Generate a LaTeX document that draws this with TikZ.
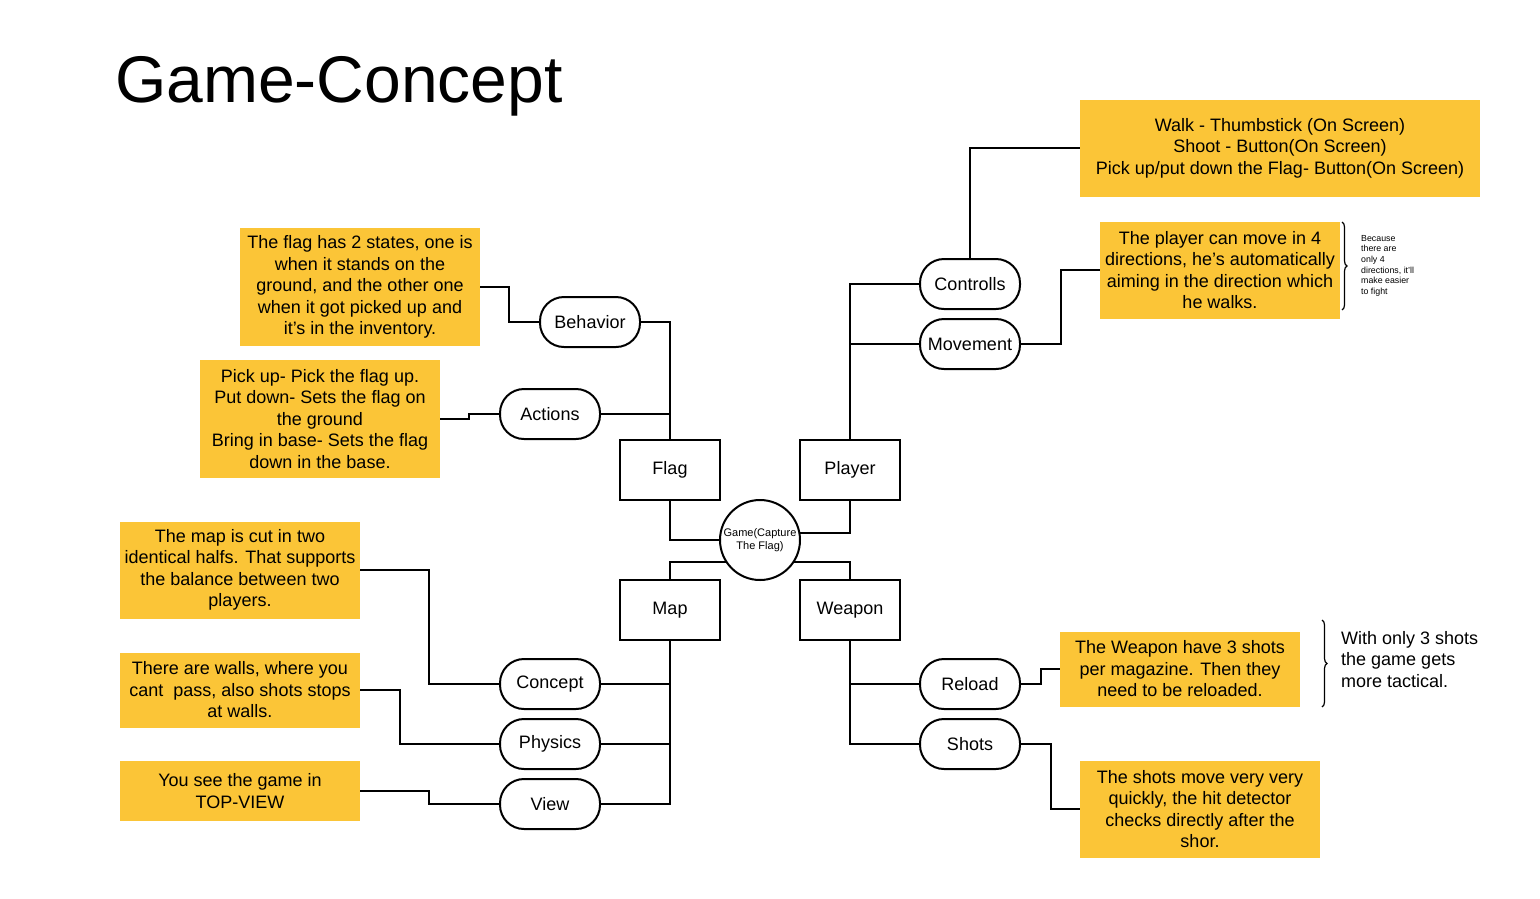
\documentclass[tikz,border=0pt]{standalone}
\usepackage{fontspec}
\setmainfont{Liberation Sans}
\usetikzlibrary{decorations.pathreplacing}
\definecolor{yel}{HTML}{FBC537}
\begin{document}
\begin{tikzpicture}[x=1pt,y=-1pt,
  every node/.style={font=\fontsize{18}{21.5}\selectfont},
  tbox/.style={fill=yel,align=center,inner sep=0pt},
  rbox/.style={draw,line width=1.5pt,minimum width=100pt,minimum height=60pt,inner sep=0pt},
  pill/.style={draw,line width=2pt,rounded corners=24pt,minimum width=100pt,minimum height=50pt,inner sep=0pt},
  conn/.style={line width=2pt},
  brc/.style={decorate,decoration={brace,amplitude=5pt},line width=1.2pt}]
\useasboundingbox (0,0) rectangle (1540,898);

\node[anchor=base west,inner sep=0pt,font=\fontsize{66}{66}\selectfont] (title) at (115,102) {Game-Concept};

% center
\node[draw,circle,line width=2pt,minimum size=80pt,inner sep=0pt,align=center,font=\fontsize{11}{13}\selectfont] (c) at (760,540) {Game(Capture\\The Flag)};

\node[rbox] (flag) at (670,470) {Flag};
\node[rbox] (player) at (850,470) {Player};
\node[rbox] (map) at (670,610) {Map};
\node[rbox] (weapon) at (850,610) {Weapon};

\draw[conn] (flag.south) |- (c.west);
\draw[conn] (player.south) |- (c.10);
\draw[conn] (map.north) |- (c.213);
\draw[conn] (weapon.north) |- (c.-33);

% flag branch
\node[pill] (behavior) at (590,322) {Behavior};
\node[pill] (actions) at (550,414) {Actions};
\draw[conn] (flag.north) |- (behavior.east);
\draw[conn] (actions.east) -| (flag.north);

\node[tbox,minimum width=240pt,minimum height=118pt] (b3) at (360,287) {The flag has 2 states, one is\\when it stands on the\\ground, and the other one\\when it got picked up and\\it's in the inventory.};
\node[tbox,minimum width=240pt,minimum height=118pt] (b4) at (320,419) {Pick up- Pick the flag up.\\Put down- Sets the flag on\\the ground\\Bring in base- Sets the flag\\down in the base.};
\draw[conn] (b3.east) -- ++(29,0) |- (behavior.west);
\draw[conn] (b4.east) -- ++(29,0) |- (actions.west);

% player branch
\node[pill] (controlls) at (970,284) {Controlls};
\node[pill] (movement) at (970,344) {Movement};
\draw[conn] (player.north) |- (controlls.west);
\draw[conn] (movement.west) -| (player.north);

\node[tbox,minimum width=400pt,minimum height=97pt] (b1) at (1280,148) {Walk - Thumbstick (On Screen)\\Shoot - Button(On Screen)\\Pick up/put down the Flag- Button(On Screen)};
\node[tbox,minimum width=240pt,minimum height=97pt] (b2) at (1220,270) {The player can move in 4\\directions, he's automatically\\aiming in the direction which\\he walks.};
\draw[conn] (controlls.north) |- (b1.west);
\draw[conn] (movement.east) -- ++(40,0) |- (b2.west);

\draw[brc] (1342,222) -- (1342,310);
\node[anchor=north west,inner sep=0pt,align=left,font=\fontsize{8.8}{10.6}\selectfont] (n1) at (1361,235) {Because\\there are\\only 4\\directions, it'll\\make easier\\to fight};

% map branch
\node[pill] (concept) at (550,684) {Concept};
\node[pill] (physics) at (550,744) {Physics};
\node[pill] (view) at (550,804) {View};
\draw[conn] (map.south) |- (view.east);
\draw[conn] (concept.east) -| (map.south);
\draw[conn] (physics.east) -| (map.south);

\node[tbox,minimum width=240pt,minimum height=97pt] (b5) at (240,570) {The map is cut in two\\identical halfs. That supports\\the balance between two\\players.};
\node[tbox,minimum width=240pt,minimum height=75pt] (b6) at (240,690) {There are walls, where you\\cant\ \ pass, also shots stops\\at walls.};
\node[tbox,minimum width=240pt,minimum height=60pt] (b7) at (240,791) {You see the game in\\TOP-VIEW};
\draw[conn] (b5.east) -- ++(69,0) |- (concept.west);
\draw[conn] (b6.east) -- ++(40,0) |- (physics.west);
\draw[conn] (b7.east) -- ++(69,0) |- (view.west);

% weapon branch
\node[pill] (reload) at (970,684) {Reload};
\node[pill] (shots) at (970,744) {Shots};
\draw[conn] (weapon.south) |- (shots.west);
\draw[conn] (reload.west) -| (weapon.south);

\node[tbox,minimum width=240pt,minimum height=75pt] (b8) at (1180,669) {The Weapon have 3 shots\\per magazine. Then they\\need to be reloaded.};
\node[tbox,minimum width=240pt,minimum height=97pt] (b9) at (1200,809) {The shots move very very\\quickly, the hit detector\\checks directly after the\\shor.};
\draw[conn] (reload.east) -- ++(20,0) |- (b8.west);
\draw[conn] (shots.east) -- ++(30,0) |- (b9.west);

\draw[brc] (1322,620) -- (1322,707);
\node[anchor=north west,inner sep=0pt,align=left] (n2) at (1341,631) {With only 3 shots\\the game gets\\more tactical.};
\end{tikzpicture}
\end{document}
